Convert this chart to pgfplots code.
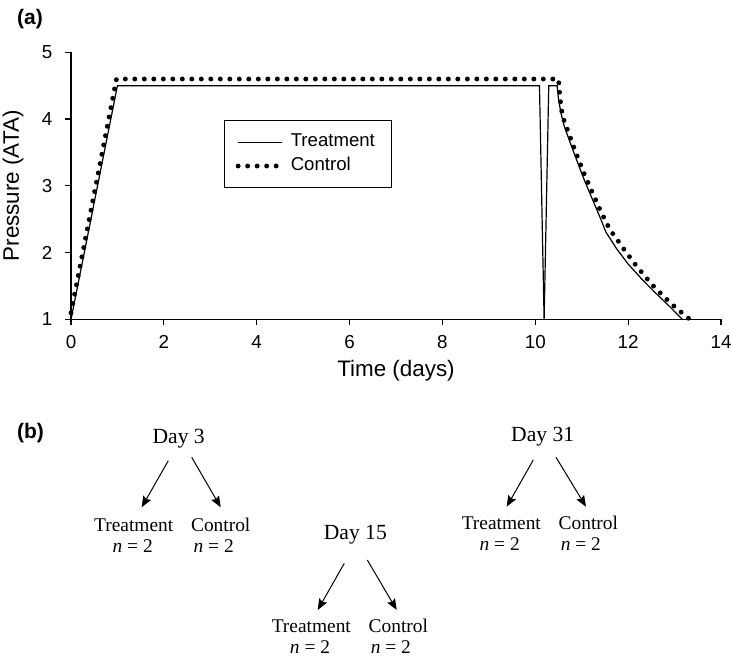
\documentclass[border=0pt]{standalone}
\usepackage{fontspec}
\setmainfont{Liberation Sans}
\newfontfamily\timesfont{Liberation Serif}
\usepackage{pgfplots}
\pgfplotsset{compat=1.18}
\usetikzlibrary{arrows.meta}

\tikzset{
  tm/.style={anchor=base, inner sep=0pt, font=\timesfont\fontsize{9.7}{11}\selectfont},
  dy/.style={anchor=base, inner sep=0pt, font=\timesfont\fontsize{10.8}{12}\selectfont},
  arr/.style={-{Stealth[length=5.5pt,width=4.4pt,inset=0.8pt]}, line width=0.5pt},
  pl/.style={anchor=base west, inner sep=0pt, font=\bfseries\fontsize{10.5}{12}\selectfont},
}

\begin{document}
\begin{tikzpicture}
\path[use as bounding box] (0,0) rectangle (365.5pt,328pt);

\begin{axis}[
  at={(35.5pt,168.25pt)}, anchor=south west,
  scale only axis, width=325pt, height=133.6pt,
  xmin=0, xmax=14, ymin=1, ymax=5,
  axis lines=left,
  axis line style={-, line width=0.6pt},
  xtick={0,2,...,14}, ytick={1,2,3,4,5},
  tick align=outside, major tick length=2.8pt,
  tick style={line width=0.6pt, black},
  ticklabel style={font=\fontsize{9.4}{11}\selectfont},
  xticklabel style={yshift=-1.6pt},
  yticklabel style={xshift=-3pt},
  /pgf/number format/assume math mode=true,
  xlabel={Time (days)}, ylabel={Pressure (ATA)},
  label style={font=\fontsize{11.2}{13}\selectfont},
  xlabel style={at={(axis description cs:0.5,-0.215)}, anchor=base},
  ylabel style={at={(axis description cs:-0.0893,0.5)}, anchor=center},
  clip=false,
  legend style={at={(0.236,0.745)}, anchor=north west, draw=black,
    line width=0.5pt, inner xsep=5.4pt, inner ysep=4.7pt,
    font=\fontsize{9.3}{11}\selectfont,
    nodes={text height=6.7pt, text depth=2pt, inner ysep=1.6pt, inner xsep=3.1pt}},
  legend cell align=left,
  legend image code/.code={\draw[#1] (0pt,0pt) -- (22pt,0pt);},
]

% treatment: one brief pressure drop at day ~10.2
\addplot[black, line width=0.6pt] coordinates {
  (0,1) (1,4.5) (10.09,4.5) (10.19,1) (10.29,4.5) (10.47,4.5)
  (10.5,4.3) (10.55,4.1) (10.62,3.9) (10.75,3.65) (10.9,3.37)
  (11.06,3.08) (11.23,2.8) (11.4,2.52) (11.52,2.31) (11.75,2.06)
  (12.0,1.83) (12.3,1.6) (12.6,1.39) (12.9,1.19) (13.17,1.0)
};
\addlegendentry{Treatment}

\addplot[black, line width=2.45pt, line cap=round, dash pattern=on 0pt off 4.75pt] coordinates {
  (0,1.1) (0.98,4.6) (10.5,4.6) (10.52,4.42) (10.56,4.15) (10.61,4.0)
  (10.75,3.73) (10.9,3.45) (11.06,3.17) (11.23,2.9) (11.41,2.62)
  (11.61,2.34) (11.76,2.2) (11.9,2.06) (12.19,1.79) (12.53,1.51)
  (12.92,1.24) (13.33,1.0)
};
\addlegendentry{Control}

\end{axis}

\node[pl] at (8.35pt,315.6pt) {(a)};
\node[pl] at (8.35pt,108.6pt) {(b)};

% Day 3
\node[dy] at (89.35pt,106.35pt) {Day 3};
\draw[arr] (84.15pt,97.65pt) -- (70.85pt,74.35pt);
\draw[arr] (95.85pt,99.35pt) -- (110.35pt,74.35pt);
\node[tm] at (66.85pt,62.35pt) {Treatment};
\node[tm] at (110.35pt,62.35pt) {Control};
\node[tm] at (66.35pt,51.7pt) {{\itshape n} = 2};
\node[tm] at (106.85pt,51.7pt) {{\itshape n} = 2};

% Day 15
\node[dy] at (177.65pt,58pt) {Day 15};
\draw[arr] (172.15pt,46.35pt) -- (158.85pt,23pt);
\draw[arr] (183.65pt,48pt) -- (198.35pt,23pt);
\node[tm] at (155.65pt,11.65pt) {Treatment};
\node[tm] at (199.15pt,11.65pt) {Control};
\node[tm] at (155pt,1.35pt) {{\itshape n} = 2};
\node[tm] at (195.4pt,1.35pt) {{\itshape n} = 2};

% Day 31
\node[dy] at (271.35pt,107.15pt) {Day 31};
\draw[arr] (266.65pt,98pt) -- (253.35pt,74.65pt);
\draw[arr] (278pt,99.35pt) -- (293pt,74.65pt);
\node[tm] at (250.65pt,63.35pt) {Treatment};
\node[tm] at (294.15pt,63.35pt) {Control};
\node[tm] at (249.85pt,52.65pt) {{\itshape n} = 2};
\node[tm] at (290.4pt,52.65pt) {{\itshape n} = 2};

\end{tikzpicture}
\end{document}
